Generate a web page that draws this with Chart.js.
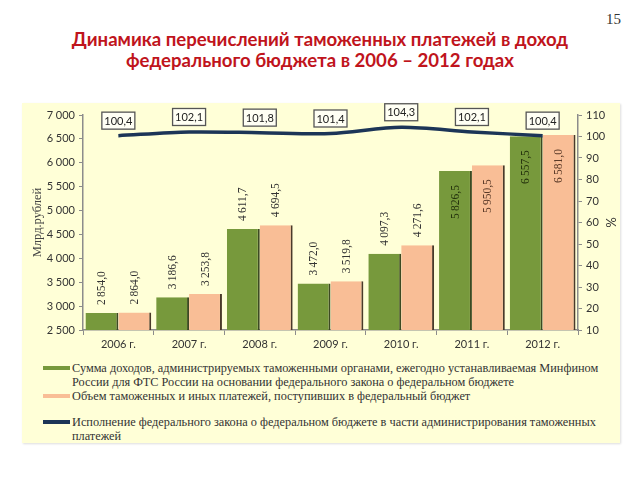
<!DOCTYPE html>
<html><head><meta charset="utf-8">
<script src="https://cdn.jsdelivr.net/npm/chart.js@4.4.1/dist/chart.umd.min.js"></script>
<style>
body{margin:0;width:640px;height:480px;background:#fff;position:relative;overflow:hidden;font-family:Lato,"Liberation Sans",sans-serif;}
#title{position:absolute;left:0;top:29px;width:640px;text-align:center;color:#C0141C;font-weight:bold;font-size:18.6px;line-height:21px;}
#pg{position:absolute;left:606px;top:11px;font-family:"Liberation Serif",serif;font-size:15px;color:#333;}
#panel{position:absolute;left:22px;top:103px;width:598px;height:340px;background:#FFFFD7;box-shadow:1px 1px 2px #ddd;}
#cv{position:absolute;left:0;top:0;width:598px;height:250px;}
.lg{position:absolute;left:50px;font-family:"Liberation Serif",serif;font-size:12.3px;color:#333;line-height:14px;width:530px;}
.mk{position:absolute;left:21px;width:27px;height:4px;}
</style></head><body>
<div id="title">Динамика перечислений таможенных платежей в доход<br>федерального бюджета в 2006 – 2012 годах</div>
<div id="pg">15</div>
<div id="panel">
<canvas id="cv" width="598" height="250"></canvas>
<div class="mk" style="top:263px;background:#77993C"></div>
<div class="lg" style="top:258px">Сумма доходов, администрируемых таможенными органами, ежегодно устанавливаемая Минфином России для ФТС России на основании федерального закона о федеральном бюджете</div>
<div class="mk" style="top:291px;background:#F9BE96"></div>
<div class="lg" style="top:286px">Объем таможенных и иных платежей, поступивших в федеральный бюджет</div>
<div class="mk" style="top:317px;background:#1C3557"></div>
<div class="lg" style="top:312px">Исполнение федерального закона о федеральном бюджете в части администрирования таможенных платежей</div>
</div>
<script>
const categories = ["2006 г.","2007 г.","2008 г.","2009 г.","2010 г.","2011 г.","2012 г."];
const planned = [2854.0, 3186.6, 4611.7, 3472.0, 4097.3, 5826.5, 6557.5];
const received = [2864.0, 3253.8, 4694.5, 3519.8, 4271.6, 5950.5, 6581.0];
const execution = [100.4, 102.1, 101.8, 101.4, 104.3, 102.1, 100.4];

function fmt(v){
  const s = v.toFixed(1).split('.');
  let int = s[0];
  if (int.length > 3) int = int.slice(0, int.length-3) + '\u2009' + int.slice(-3);
  return int + ',' + s[1];
}
function fmtTick(v){
  const s = String(v);
  return s.length > 3 ? s.slice(0, s.length-3) + ' ' + s.slice(-3) : s;
}

const labelPlugin = {
  id: 'labels',
  afterDatasetsDraw(chart){
    const ctx = chart.ctx;
    ctx.save();
    chart.data.datasets.forEach((ds, di) => {
      const meta = chart.getDatasetMeta(di);
      if (ds.type === 'line') {
        meta.data.forEach((pt, i) => {
          const txt = ds.data[i].toFixed(1).replace('.', ',');
          const w = 33, h = 17;
          const cx = pt.x, cy = pt.y - 15;
          ctx.fillStyle = '#FFFFF4';
          ctx.strokeStyle = '#555';
          ctx.lineWidth = 1.3;
          ctx.fillRect(cx - w/2, cy - h/2, w, h);
          ctx.strokeRect(cx - w/2, cy - h/2, w, h);
          ctx.fillStyle = '#222';
          ctx.font = '11px Lato, "Liberation Sans", sans-serif';
          ctx.textAlign = 'center';
          ctx.textBaseline = 'middle';
          ctx.fillText(txt, cx, cy + 0.5);
        });
      } else {
        meta.data.forEach((bar, i) => {
          const v = ds.data[i];
          const inside = v > 5500;
          ctx.save();
          ctx.translate(bar.x, inside ? bar.y + 14 : bar.y - 8);
          ctx.rotate(-Math.PI/2);
          ctx.font = '11.5px "Liberation Serif", serif';
          ctx.fillStyle = inside ? (di === 1 ? '#25330d' : '#5a3a28') : '#333';
          ctx.textAlign = inside ? 'right' : 'left';
          ctx.textBaseline = 'middle';
          ctx.fillText(fmt(v), 0, 0);
          ctx.restore();
        });
      }
    });
    ctx.restore();
  }
};

new Chart(document.getElementById('cv'), {
  data: {
    labels: categories,
    datasets: [
      { type: 'line', data: execution, yAxisID: 'y1', borderColor: '#1C3557', borderWidth: 3.5,
        pointRadius: 0, tension: 0.3, order: 0 },
      { type: 'bar', data: planned, yAxisID: 'y', backgroundColor: '#77993C', borderColor: '#3d4a22',
        borderWidth: {top:0,left:0,bottom:0,right:2}, borderSkipped: false,
        categoryPercentage: 0.93, barPercentage: 1.0, order: 1 },
      { type: 'bar', data: received, yAxisID: 'y', backgroundColor: '#F9BE96', borderColor: '#4a3a2a',
        borderWidth: {top:0,left:0,bottom:0,right:2}, borderSkipped: false,
        categoryPercentage: 0.93, barPercentage: 1.0, order: 1 }
    ]
  },
  options: {
    responsive: false, animation: false, devicePixelRatio: 1,
    layout: { padding: { top: 12, left: 0, right: 0, bottom: 0 } },
    plugins: { legend: { display: false }, tooltip: { enabled: false } },
    scales: {
      x: {
        offset: true,
        grid: { offset: true, drawOnChartArea: false, drawTicks: true, tickLength: 5, color: '#8c8c8c' },
        border: { color: '#8c8c8c', width: 1.5 },
        ticks: { color: '#333', font: { family: 'Lato, "Liberation Sans", sans-serif', size: 11 }, padding: 3 },
        afterFit(s){ s.height = 23; }
      },
      y: {
        position: 'left', min: 2500, max: 7000,
        ticks: { stepSize: 500, color: '#333', font: { family: 'Lato, "Liberation Sans", sans-serif', size: 11 }, padding: 4,
          callback: v => fmtTick(v) },
        grid: { drawOnChartArea: false, drawTicks: true, tickLength: 4, color: '#8c8c8c' },
        border: { color: '#8c8c8c', width: 1.5 },
        title: { display: true, text: 'Млрд.рублей', color: '#444', font: { family: '"Liberation Serif", serif', size: 12.5 }, padding: { top: 8, bottom: 0 } },
        afterFit(s){ s.width = 61; }
      },
      y1: {
        position: 'right', min: 10, max: 110,
        ticks: { stepSize: 10, color: '#333', font: { family: 'Lato, "Liberation Sans", sans-serif', size: 11 }, padding: 4 },
        grid: { drawOnChartArea: false, drawTicks: true, tickLength: 4, color: '#8c8c8c' },
        border: { color: '#8c8c8c', width: 1.5 },
        title: { display: true, text: '%', color: '#333', font: { family: 'Lato, sans-serif', size: 13 }, padding: { top: 2, bottom: 0 } },
        afterFit(s){ s.width = 42; }
      }
    }
  },
  plugins: [labelPlugin]
});
</script>
</body></html>
